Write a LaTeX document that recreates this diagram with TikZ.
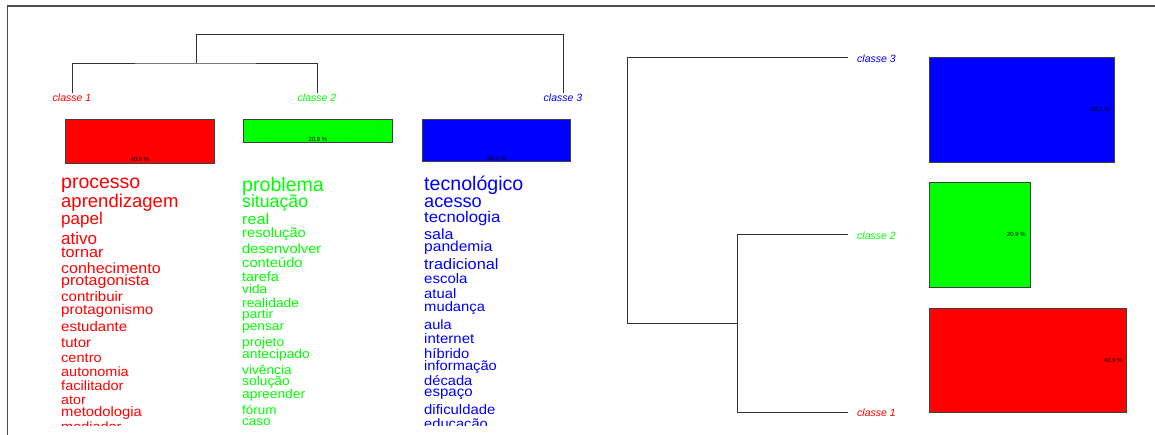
\documentclass[tikz,border=0pt]{standalone}
\usepackage{fontspec}
\setmainfont{Liberation Sans}
% slightly widened face for the smaller list entries
\newfontfamily\widesans[FakeStretch=1.08]{Liberation Sans}
\begin{document}
\begin{tikzpicture}[x=1pt,y=-1pt,
  frame/.style={draw=black!70, line width=1.7pt},
  tree/.style={draw=black!80, line width=0.9pt},
  bar/.style={draw=black!75, line width=0.8pt, inner sep=0pt, anchor=north west},
  pct/.style={font=\fontsize{6}{6}\selectfont, text=black, inner sep=0pt},
  cls/.style={font=\fontsize{10.5}{10.5}\selectfont\itshape, inner sep=0pt},
  word/.style={anchor=west, inner sep=0pt, font=\fontsize{#1}{#1}\selectfont},
  sword/.style={anchor=west, inner sep=0pt, font=\widesans\fontsize{#1}{#1}\selectfont},
]
\useasboundingbox (0,0) rectangle (1155,435);
\fill[white] (0,0) rectangle (1155,435);

% outer frame (top and left edges)
\coordinate (fa) at (7.5,435);
\coordinate (fb) at (7.5,6);
\coordinate (fc) at (1155,6);
\draw[frame] (fa) -- (fb) -- (fc);

% ---------- left panel: horizontal dendrogram ----------
\node[cls, text=red]   (l1) at (72,97.5)  {classe 1};
\node[cls, text=green] (l2) at (317,97.5) {classe 2};
\node[cls, text=blue]  (l3) at (563,97.5) {classe 3};
\coordinate (j12)  at (196,63);
\coordinate (j123) at (196,34);
\draw[tree] (l1.north) |- (j12) -| (l2.north);
\draw[tree] (j12) -- (j123) -| (l3.north);

% class size bars
\node[bar, fill=red,   minimum width=149pt, minimum height=44pt] (b1) at (65,119)  {};
\node[bar, fill=green, minimum width=149pt, minimum height=23pt] (b2) at (243,119) {};
\node[bar, fill=blue,  minimum width=148pt, minimum height=42pt] (b3) at (422,119) {};
\node[pct, anchor=south] (p1) at ([yshift=2pt]b1.south) {40.9 \%};
\node[pct, anchor=south] (p2) at ([yshift=1.5pt]b2.south) {20.9 \%};
\node[pct, anchor=south] (p3) at ([yshift=1.5pt]b3.south) {38.2 \%};

% word lists per class
\begin{scope}
\clip (0,0) rectangle (1155,425.5);
\begin{scope}[every node/.append style={text=red}]
\node[word=19.5]  (r1)  at (61,185) {processo};
\node[word=18.5]  (r2)  at (61,203) {aprendizagem};
\node[word=17]    (r3)  at (61,220) {papel};
\node[word=17]    (r4)  at (61,238) {ativo};
\node[sword=15]   (r5)  at (61,253) {tornar};
\node[sword=14.8] (r6)  at (61,268) {conhecimento};
\node[sword=14.8] (r7)  at (61,282) {protagonista};
\node[sword=13.9] (r8)  at (61,296.5) {contribuir};
\node[sword=14.1] (r9)  at (61,311) {protagonismo};
\node[sword=13.9] (r10) at (61,327) {estudante};
\node[sword=13.9] (r11) at (61,343) {tutor};
\node[sword=13.5] (r12) at (61,358) {centro};
\node[sword=13.4] (r13) at (61,372) {autonomia};
\node[sword=13.5] (r14) at (61,386) {facilitador};
\node[sword=13.2] (r15) at (61,400) {ator};
\node[sword=13.7] (r16) at (61,412.5) {metodologia};
\node[sword=13.4] (r17) at (61,427) {mediador};
\end{scope}
\begin{scope}[every node/.append style={text=green}]
\node[word=19.6]  (g1)  at (242,186) {problema};
\node[word=17.7]  (g2)  at (242,203) {situação};
\node[sword=15]   (g3)  at (242,219) {real};
\node[sword=13.6] (g4)  at (242,234) {resolução};
\node[sword=13.6] (g5)  at (242,249) {desenvolver};
\node[sword=13.6] (g6)  at (242,263) {conteúdo};
\node[sword=13.3] (g7)  at (242,277) {tarefa};
\node[sword=12.7] (g8)  at (242,289) {vida};
\node[sword=12.8] (g9)  at (242,303) {realidade};
\node[sword=12.6] (g10) at (242,315) {partir};
\node[sword=12.7] (g11) at (242,328) {pensar};
\node[sword=12.7] (g12) at (242,343) {projeto};
\node[sword=12.8] (g13) at (242,355) {antecipado};
\node[sword=12.7] (g14) at (242,370) {vivência};
\node[sword=12.8] (g15) at (242,382) {solução};
\node[sword=12.8] (g16) at (242,395) {apreender};
\node[sword=12.5] (g17) at (242,410) {fórum};
\node[sword=12.5] (g18) at (242,422) {caso};
\end{scope}
\begin{scope}[every node/.append style={text=blue}]
\node[word=19.6]  (c1)  at (424,185.5) {tecnológico};
\node[word=18.2]  (c2)  at (424,202.5) {acesso};
\node[sword=15.5] (c3)  at (424,218) {tecnologia};
\node[sword=14.8] (c4)  at (424,234) {sala};
\node[sword=14.4] (c5)  at (424,248) {pandemia};
\node[sword=15.1] (c6)  at (424,264) {tradicional};
\node[sword=13.9] (c7)  at (424,279) {escola};
\node[sword=13.7] (c8)  at (424,294) {atual};
\node[sword=13.7] (c9)  at (424,308) {mudança};
\node[sword=13.5] (c10) at (424,325) {aula};
\node[sword=13.9] (c11) at (424,339) {internet};
\node[sword=13.7] (c12) at (424,354) {híbrido};
\node[sword=13.6] (c13) at (424,367) {informação};
\node[sword=13.6] (c14) at (424,381) {década};
\node[sword=13.9] (c15) at (424,394.5) {espaço};
\node[sword=13.8] (c16) at (424,410) {dificuldade};
\node[sword=13.6] (c17) at (424,425) {educação};
\end{scope}
\end{scope}

% ---------- right panel: vertical dendrogram ----------
\coordinate (t3) at (848,57);
\coordinate (t2) at (848,234);
\coordinate (t1) at (848,412);
\coordinate (rj) at (737,323);
\coordinate (rr) at (627,323);
\draw[tree] (t3) -| (rr) -- (rj);
\draw[tree] (t2) -| (rj) |- (t1);
\node[cls, text=blue,  anchor=west] (k3) at (857,59)  {classe 3};
\node[cls, text=green, anchor=west] (k2) at (857,236) {classe 2};
\node[cls, text=red,   anchor=west] (k1) at (857,413) {classe 1};

% class size bars
\node[bar, fill=blue,  minimum width=185pt, minimum height=105pt] (q3) at (929,57)  {};
\node[bar, fill=green, minimum width=101pt, minimum height=105pt] (q2) at (929,182) {};
\node[bar, fill=red,   minimum width=197pt, minimum height=104pt] (q1) at (929,308) {};
\node[pct, anchor=east] (s3) at ([xshift=-5pt]q3.east) {38.2 \%};
\node[pct, anchor=east] (s2) at ([xshift=-5pt]q2.east) {20.9 \%};
\node[pct, anchor=east] (s1) at ([xshift=-4pt]q1.east) {40.9 \%};
\end{tikzpicture}
\end{document}
